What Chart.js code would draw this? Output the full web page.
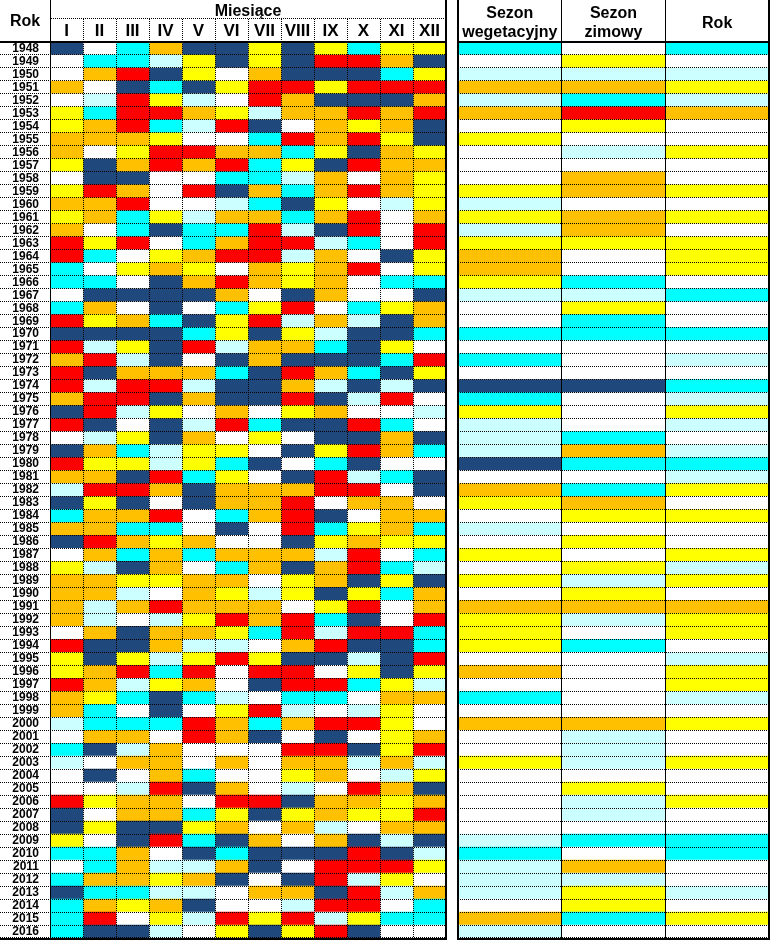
<!DOCTYPE html>
<html>
<head>
<meta charset="utf-8">
<script src="https://cdn.jsdelivr.net/npm/chart.js@4/dist/chart.umd.min.js"></script>
<style>
  body { margin: 0; background: #fff; }
  #wrap { position: relative; width: 771px; height: 940px; }
  #monthChart { position: absolute; left: 0; top: 0; }
  #seasonChart { position: absolute; left: 456px; top: 0; }
</style>
</head>
<body>
<div id="wrap">
  <canvas id="monthChart" width="449" height="940"></canvas>
  <canvas id="seasonChart" width="315" height="940"></canvas>
</div>
<script>
const years = [
  '1948','1949','1950','1951','1952','1953','1954','1955','1956','1957',
  '1958','1959','1960','1961','1962','1963','1964','1965','1966','1967',
  '1968','1969','1970','1971','1972','1973','1974','1975','1976','1977',
  '1978','1979','1980','1981','1982','1983','1984','1985','1986','1987',
  '1988','1989','1990','1991','1992','1993','1994','1995','1996','1997',
  '1998','1999','2000','2001','2002','2003','2004','2005','2006','2007',
  '2008','2009','2010','2011','2012','2013','2014','2015','2016'
];
const months = ['I', 'II', 'III', 'IV', 'V', 'VI', 'VII', 'VIII', 'IX', 'X', 'XI', 'XII'];
const seasons = [['Sezon', 'wegetacyjny'], ['Sezon', 'zimowy'], 'Rok'];

// thermal class of each cell:
// B extremely cold, C very cold, L cold, W normal, Y warm, O very warm, R extremely warm
// one string per year, January..December
const monthly = [
  'BWCOBBYBYCYY', 'WCCLYBYBRROB', 'WORBYWOBBBCY', 'OWBCBYRRYRRR', 'WLRYLWROBBBO',
  'YCRROYLOOROR', 'YORCLRBWOYOB', 'OOOYWWCRORYB', 'OWYRROOCYBOY', 'YBORORCYBROO',
  'WBBWWCCLOWOY', 'YROWRBOCOROY', 'OORWWLCBYWLY', 'YOCYLOOCORWO', 'OWCBCCRLBRWR',
  'RYRWCORRLCWR', 'RCWYORRLOWBY', 'CWYOYWOYORWY', 'CCWBOROYOWCC', 'WBBBBOWBOWWB',
  'COWBWCYRWCYO', 'RYOCBYRLOLBO', 'BBBBCYBYLBBC', 'RLYBRLOOCBYW', 'ORLBWBOBBBCR',
  'RBOOOCBROCBY', 'RLRRLBBOLBLB', 'ORRBOBBRBLRW', 'BRLYWOWYOWWL', 'RBWBLRCBBRCW',
  'WLYBOWYWBBOB', 'BOCLYYWBYROC', 'RYYLYCBWCBWW', 'OOBRCYWBRLCB', 'LRROBOOORRWB',
  'BYBWBOORWOOW', 'COORWCORBWOO', 'OOCCWBWRCYOC', 'BROYOWWBYOYY', 'WOCOCOOOLRWC',
  'YLBOWCOBORCL', 'OOYYOOWYOBYB', 'OOLWOYLYBYCO', 'OLOROOOWYRWO', 'OLWLYRORCBWR',
  'WOBOOYCRLRRC', 'RBBOLLWORBBC', 'YBYLYRYBBLBR', 'YORCRWRRWYBY', 'ROLYOWBRRCYL',
  'OYCBCLWCCWOO', 'OCWBWYRLWLYW', 'LCCCROCORRYW', 'WOOWROBWBWYO', 'CBLOWWWRRBYR',
  'LWOOWOWOOLOL', 'WBWOCWWYOWLY', 'WWLRBOWLWROB', 'RYOOWRRBOOYO', 'BWOOCYBYOYYR',
  'BYBBYOWOLWOO', 'YWBRCBOWOBLB', 'CCOWBCBBBRBL', 'WCOLLOBWRRRY', 'COOYOBWBRLYW',
  'BCCLLWOOBRLO', 'COYOBWWLRRWC', 'CRWYLRYRLYCC', 'CBBLWYBYRBWW'
];
// one string per year: growing season, winter season, whole year
const seasonal = [
  'CWC', 'WYW', 'LLL', 'OOY', 'LCL', 'ORO', 'WYW', 'YWW', 'WLY', 'WWW',
  'WOW', 'YOY', 'LWW', 'YOY', 'LOW', 'YYY', 'OWY', 'OWY', 'YCW', 'LLC',
  'WYW', 'WCW', 'CCC', 'WWW', 'CWL', 'WWW', 'BBC', 'CWL', 'YWY', 'LWL',
  'LCW', 'LOL', 'BCC', 'WWL', 'OCY', 'YOW', 'WYY', 'LWW', 'WYW', 'YWY',
  'WYL', 'YLY', 'WYW', 'OOO', 'YLY', 'YWY', 'YCW', 'WWL', 'OWY', 'WWY',
  'CWL', 'WWW', 'OOY', 'WLW', 'WLW', 'YLY', 'WWW', 'WYW', 'WLY', 'WLW',
  'WWW', 'LCC', 'CWC', 'LOW', 'LLW', 'LYL', 'WYW', 'OCY', 'LWW'
];

const classColors = {
  B: '#1F497D', C: '#00FFFF', L: '#CCFFFF', W: '#FFFFFF',
  Y: '#FFFF00', O: '#FFC000', R: '#FF0000'
};

const font = "'Liberation Sans', Arial, sans-serif";
const narrow = "'Liberation Sans Narrow', 'Arial Narrow', 'Liberation Sans', Arial, sans-serif";

function makeDatasets(rows, names) {
  return names.map((name, j) => ({
    label: Array.isArray(name) ? name.join(' ') : name,
    data: years.map(() => 1),
    backgroundColor: rows.map(r => classColors[r[j]]),
    borderWidth: 0,
    borderSkipped: false,
    barPercentage: 1,
    categoryPercentage: 1,
    xAxisID: 'x',
    yAxisID: 'y'
  }));
}

// solid frame lines of the table
const framePlugin = {
  id: 'frame',
  afterDraw(chart, args, opts) {
    const { ctx, chartArea: a } = chart;
    const h = chart.height;
    ctx.save();
    ctx.fillStyle = '#000';
    ctx.fillRect(opts.from, a.top - 1, a.right + 1 - opts.from, 2);
    ctx.fillRect(opts.from, a.bottom, a.right + 1 - opts.from, 2);
    ctx.fillRect(a.right - 1, 0, 2, h);
    if (opts.thickLeft) {
      ctx.fillRect(a.left - 1, 0, 2, h);
    } else {
      ctx.fillRect(a.left, 0, 1, h);
    }
    if (opts.header) {
      // dotted rule under "Miesiące"
      for (let x = a.left + 1; x < a.right; x += 2) ctx.fillRect(x, 18, 1, 1);
      ctx.font = 'bold 16px ' + font;
      ctx.textAlign = 'center';
      ctx.textBaseline = 'middle';
      ctx.fillText(opts.header, a.left / 2, 22);
    }
    ctx.restore();
  }
};

new Chart(document.getElementById('monthChart'), {
  type: 'bar',
  data: { labels: years, datasets: makeDatasets(monthly, months) },
  plugins: [framePlugin],
  options: {
    indexAxis: 'y',
    responsive: false,
    animation: false,
    events: [],
    layout: { autoPadding: false, padding: { top: 0, right: 3, bottom: 2, left: 0 } },
    plugins: {
      legend: { display: false },
      tooltip: { enabled: false },
      frame: { from: 0, header: 'Rok' }
    },
    scales: {
      x: { type: 'linear', stacked: true, min: 0, max: 12, display: false },
      xTop: {
        type: 'category',
        labels: months,
        position: 'top',
        offset: true,
        grid: {
          offset: true, color: '#000', z: 1,
          tickLength: 23, tickColor: '#000', tickBorderDash: [1, 1]
        },
        border: { display: false, dash: [1, 1] },
        ticks: {
          color: '#000', font: { family: narrow, size: 17, weight: 'bold' },
          padding: -23, autoSkip: false, maxRotation: 0
        },
        title: {
          display: true, text: 'Miesiące', color: '#000',
          font: { family: font, size: 16, weight: 'bold' },
          padding: { top: 2, bottom: 0 }
        },
        afterFit: s => { s.height = 42; }
      },
      y: {
        type: 'category',
        stacked: true,
        offset: true,
        grid: {
          offset: true, color: '#000', z: 1,
          tickLength: 50, tickColor: '#000', tickBorderDash: [1, 1]
        },
        border: { display: false, dash: [1, 1] },
        ticks: {
          color: '#000', font: { family: font, size: 12, weight: 'bold' },
          padding: -39, autoSkip: false
        },
        afterFit: s => { s.width = 50; }
      }
    }
  }
});

new Chart(document.getElementById('seasonChart'), {
  type: 'bar',
  data: { labels: years, datasets: makeDatasets(seasonal, seasons) },
  plugins: [framePlugin],
  options: {
    indexAxis: 'y',
    responsive: false,
    animation: false,
    events: [],
    layout: { autoPadding: false, padding: { top: 0, right: 2, bottom: 2, left: 2 } },
    plugins: {
      legend: { display: false },
      tooltip: { enabled: false },
      frame: { from: 1, thickLeft: true }
    },
    scales: {
      x: { type: 'linear', stacked: true, min: 0, max: 3, display: false },
      xTop: {
        type: 'category',
        labels: seasons,
        position: 'top',
        offset: true,
        grid: { offset: true, color: '#000', z: 1, tickLength: 42, tickColor: '#000' },
        border: { display: false },
        ticks: {
          color: '#000', font: { family: font, size: 16, weight: 'bold' },
          crossAlign: 'center', padding: -33, autoSkip: false, maxRotation: 0
        },
        afterFit: s => { s.height = 42; }
      },
      y: {
        type: 'category',
        stacked: true,
        offset: true,
        grid: { offset: true, color: '#000', z: 1, drawTicks: false },
        border: { display: false, dash: [1, 1] },
        ticks: { display: false },
        afterFit: s => { s.width = 0; }
      }
    }
  }
});
</script>
</body>
</html>
